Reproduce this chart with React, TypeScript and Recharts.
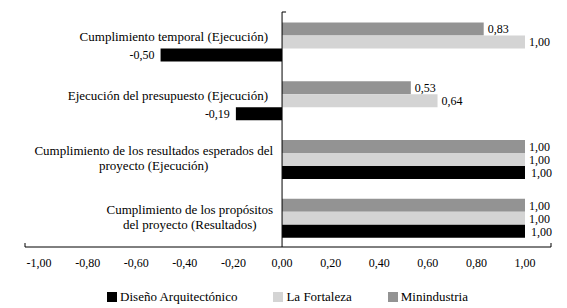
import React from "react";
import { BarChart, Bar, XAxis, YAxis, ReferenceLine, LabelList, Legend } from "recharts";

const categories = [
  "Cumplimiento temporal (Ejecución)",
  "Ejecución del presupuesto (Ejecución)",
  "Cumplimiento de los resultados esperados del\nproyecto (Ejecución)",
  "Cumplimiento de los propósitos\ndel proyecto (Resultados)",
];

const diseno = [-0.5, -0.19, 1.0, 1.0];
const fortaleza = [1.0, 0.64, 1.0, 1.0];
const minindustria = [0.83, 0.53, 1.0, 1.0];

const xTickValues = [-1, -0.8, -0.6, -0.4, -0.2, 0, 0.2, 0.4, 0.6, 0.8, 1];

// axis runs a little past -1 and 1, like the original
const X_MIN = -1.058;
const X_MAX = 1.107;

const W = 567;
const H = 308;
const margin = { top: 12, right: 16, left: 24, bottom: 13 };
const Y_AXIS_W = 1;
const PLOT_W = W - margin.left - Y_AXIS_W - margin.right;

const FONT = "'Liberation Serif', 'Times New Roman', serif";
const legendOrder = ["Diseño Arquitectónico", "La Fortaleza", "Minindustria"];

const data = categories.map((name, i) => ({
  name,
  diseno: diseno[i],
  fortaleza: fortaleza[i],
  minindustria: minindustria[i],
}));

const fmt = (v: number) => v.toFixed(2).replace(".", ",");

let ctx: CanvasRenderingContext2D | null = null;
const textWidth = (s: string) => {
  if (!ctx) ctx = document.createElement("canvas").getContext("2d");
  if (!ctx) return s.length * 6;
  ctx.font = `13px ${FONT}`;
  return ctx.measureText(s).width;
};

const CategoryTick = ({ x, y, payload }: any) => {
  const lines = String(payload.value).split("\n");
  const zeroX = x + ((0 - X_MIN) / (X_MAX - X_MIN)) * PLOT_W;
  if (lines.length === 1) {
    return (
      <text x={zeroX - 14} y={y} textAnchor="end" fontSize={13} fontFamily={FONT} fill="#000">
        {lines[0]}
      </text>
    );
  }
  const blockW = Math.max(...lines.map(textWidth));
  const cx = zeroX - 9 - blockW / 2;
  return (
    <g>
      {lines.map((l, i) => (
        <text key={i} x={cx} y={y - 3.5 + i * 15} textAnchor="middle" fontSize={13} fontFamily={FONT} fill="#000">
          {l}
        </text>
      ))}
    </g>
  );
};

const ValueTick = ({ x, y, payload }: any) => {
  const v = payload.value;
  if (v === X_MIN || v === X_MAX) {
    return <line x1={x} x2={x} y1={y} y2={y - 4} stroke="#000" />;
  }
  return (
    <text x={x} y={y + 20} textAnchor="middle" fontSize={12} fontFamily={FONT} fill="#000">
      {fmt(v)}
    </text>
  );
};

const LegendContent = ({ payload }: any) => {
  const items = [...(payload || [])].sort(
    (a: any, b: any) => legendOrder.indexOf(a.value) - legendOrder.indexOf(b.value)
  );
  return (
    <div style={{ display: "flex", justifyContent: "center", fontFamily: FONT, fontSize: 13, lineHeight: "18px" }}>
      {items.map((it: any) => (
        <div key={it.value} style={{ display: "flex", alignItems: "center", margin: "0 18px" }}>
          <span style={{ width: 10, height: 10, background: it.color, display: "inline-block", marginRight: 3 }} />
          <span>{it.value}</span>
        </div>
      ))}
    </div>
  );
};

const TopTick = ({ viewBox }: any) => (
  <line x1={viewBox.x} x2={viewBox.x + 4} y1={viewBox.y} y2={viewBox.y} stroke="#000" />
);

export default function App() {
  return (
    <div style={{ position: "absolute", left: 0, top: 0, width: W, height: H, background: "#fff" }}>
      <BarChart
        width={W}
        height={H}
        data={data}
        layout="vertical"
        margin={margin}
        barCategoryGap="18%"
        barGap={0}
        style={{ fontFamily: FONT }}
      >
        <XAxis
          type="number"
          domain={[X_MIN, X_MAX]}
          ticks={[X_MIN, ...xTickValues, X_MAX]}
          interval={0}
          tick={<ValueTick />}
          tickLine={false}
          tickSize={0}
          tickMargin={0}
          height={30}
          axisLine={{ stroke: "#000" }}
        />
        <YAxis
          type="category"
          dataKey="name"
          width={Y_AXIS_W}
          axisLine={false}
          tickLine={false}
          tickSize={0}
          tickMargin={0}
          interval={0}
          tick={<CategoryTick />}
        />
        <Bar dataKey="minindustria" name="Minindustria" fill="#939393" isAnimationActive={false}>
          <LabelList dataKey="minindustria" position="right" offset={4} formatter={(v: any) => fmt(Number(v))} fill="#000" fontSize={12} fontFamily={FONT} />
        </Bar>
        <Bar dataKey="fortaleza" name="La Fortaleza" fill="#d4d4d4" isAnimationActive={false}>
          <LabelList dataKey="fortaleza" position="right" offset={4} formatter={(v: any) => fmt(Number(v))} fill="#000" fontSize={12} fontFamily={FONT} />
        </Bar>
        <Bar dataKey="diseno" name="Diseño Arquitectónico" fill="#000000" isAnimationActive={false}>
          <LabelList dataKey="diseno" position="right" offset={6} formatter={(v: any) => fmt(Number(v))} fill="#000" fontSize={12} fontFamily={FONT} />
        </Bar>
        <ReferenceLine x={0} stroke="#000" label={<TopTick />} />
        <Legend
          verticalAlign="bottom"
          content={<LegendContent />}
          wrapperStyle={{ height: 18, bottom: 2 }}
        />
      </BarChart>
    </div>
  );
}
